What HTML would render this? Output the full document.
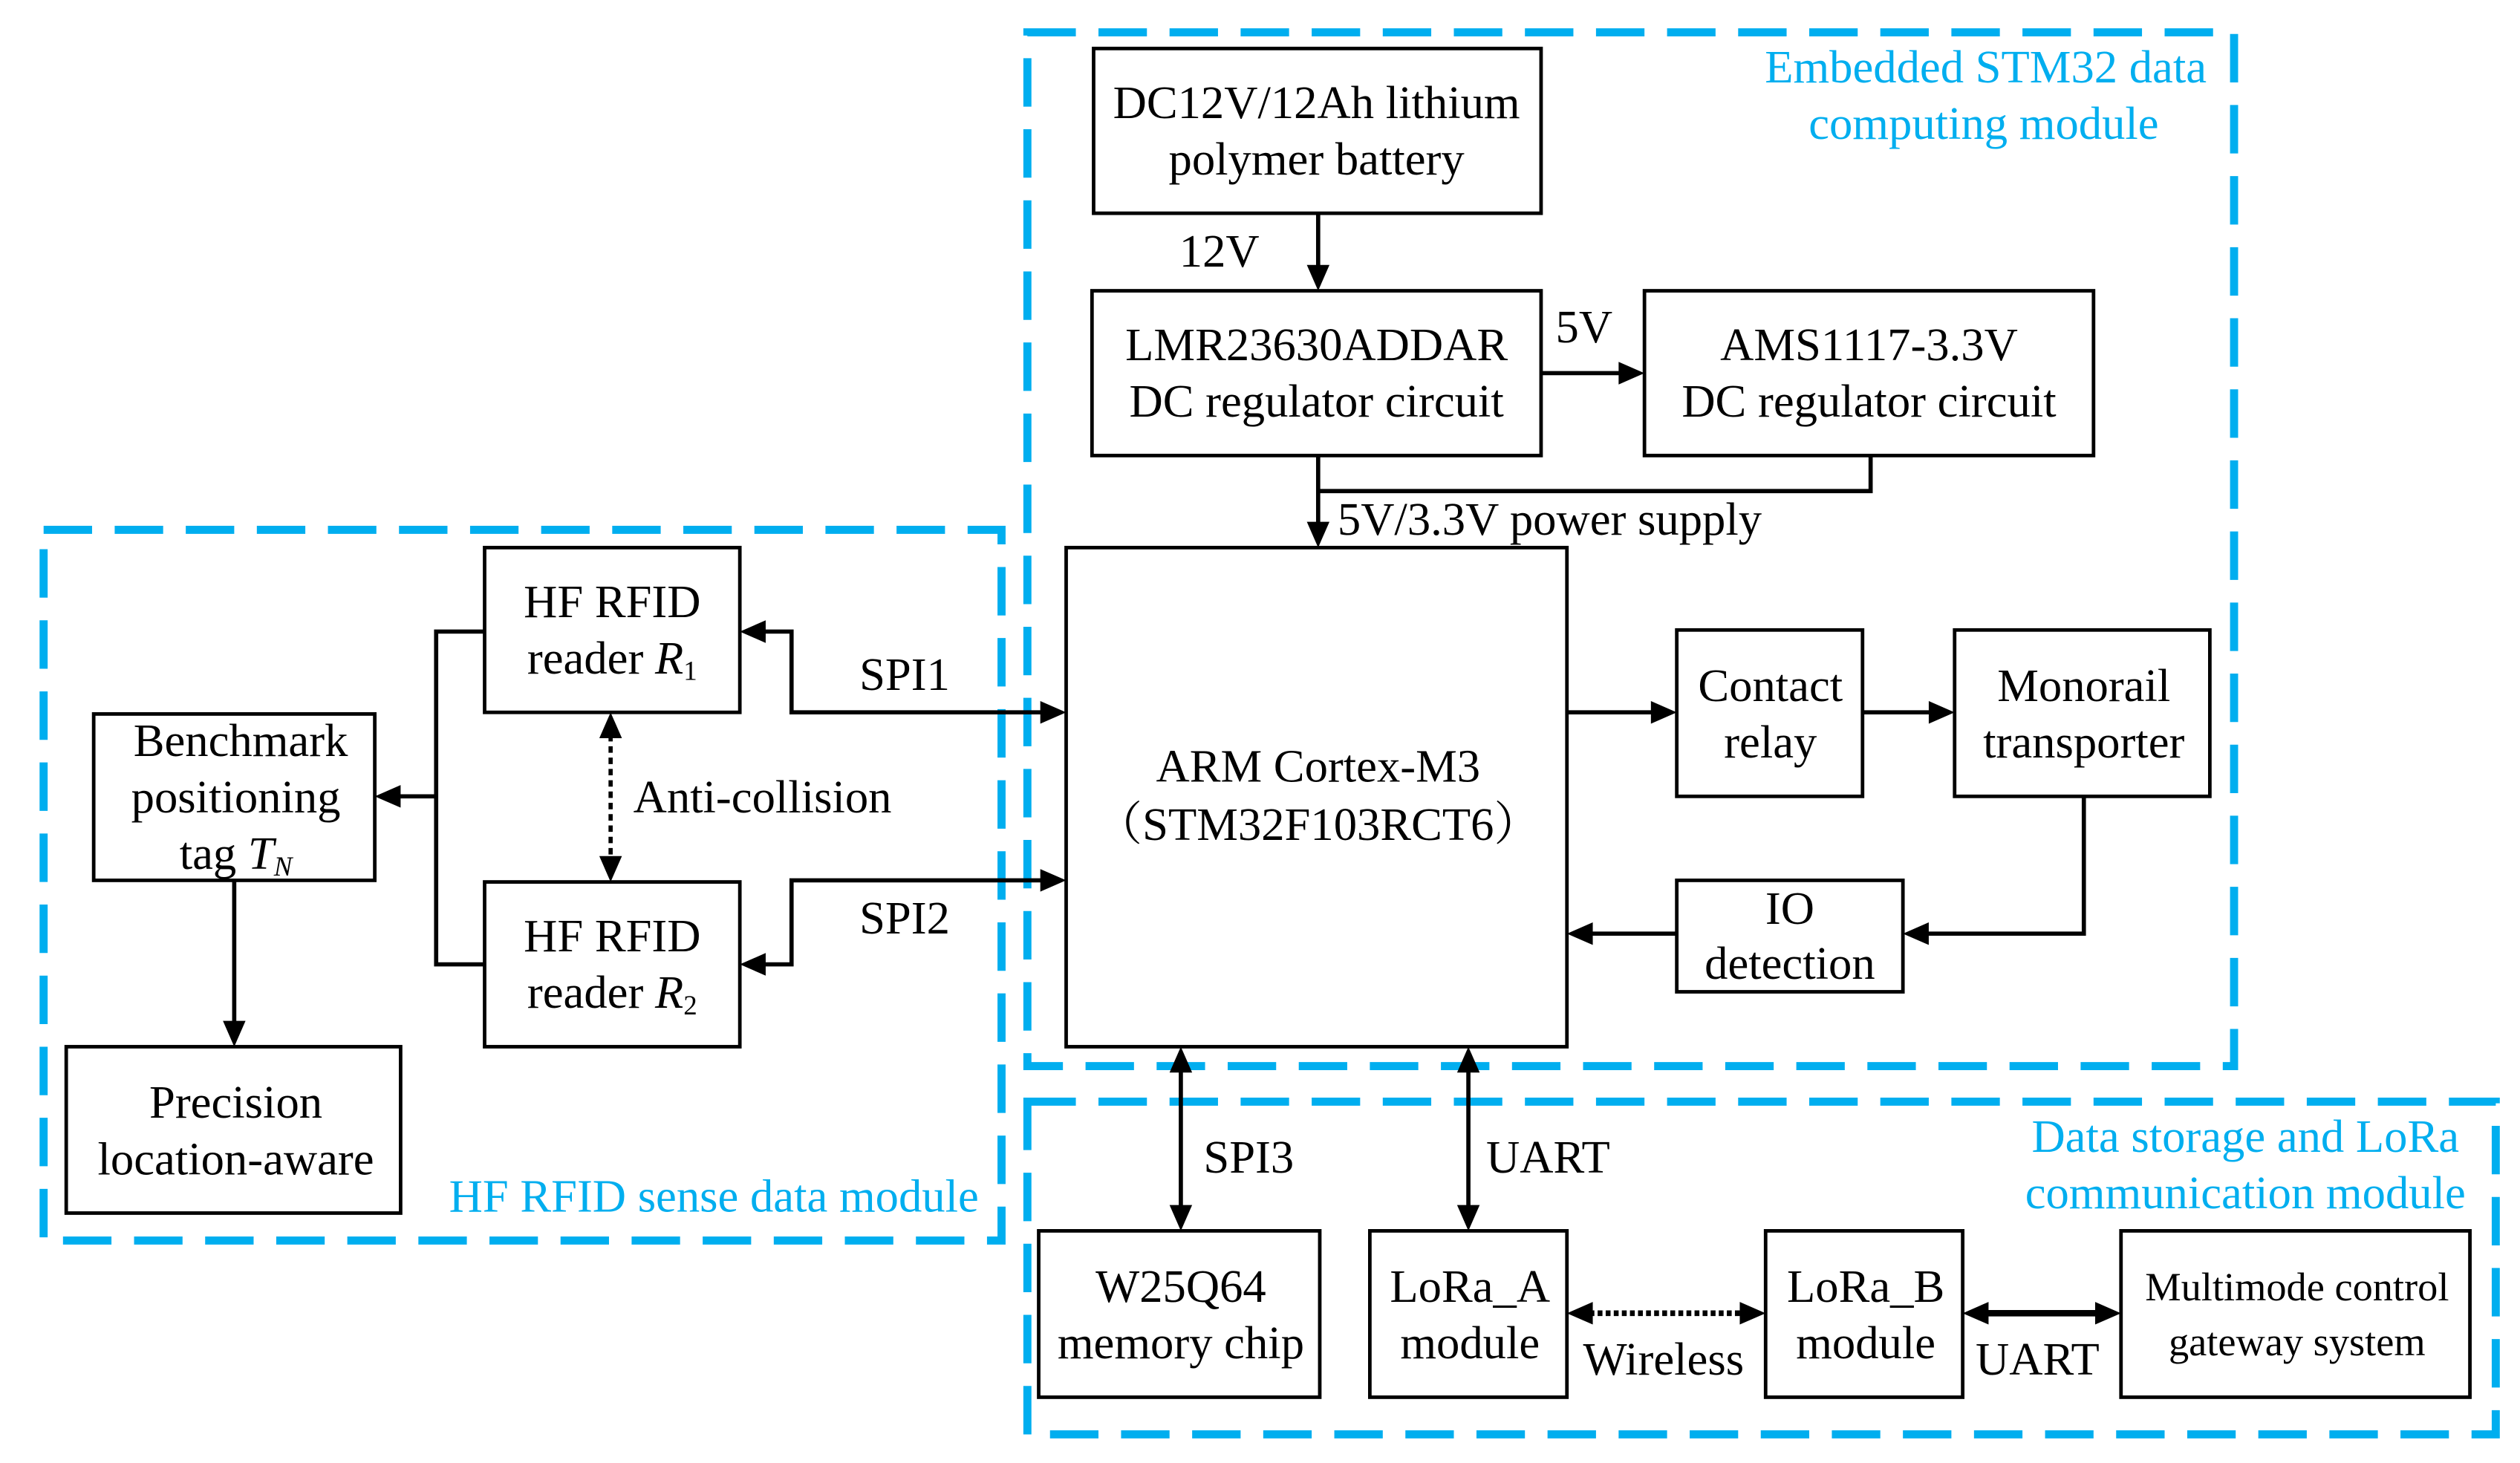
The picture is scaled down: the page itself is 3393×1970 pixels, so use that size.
<!DOCTYPE html>
<html><head><meta charset="utf-8"><style>
html,body{margin:0;padding:0;background:#fff;}
svg{display:block;}
text{font-family:"Liberation Serif","Noto Serif CJK SC",serif;font-size:28.8px;fill:#000;}
.b{fill:#00AEEF;}
.box{fill:#fff;stroke:#000;stroke-width:2.2;}
.ln{stroke:#000;stroke-width:2.6;fill:none;}
.dash{stroke:#00AEEF;stroke-width:5;fill:none;stroke-dasharray:30 14;}
</style></head><body>
<svg width="3393" height="1970" viewBox="0 0 1560 905.7" xmlns="http://www.w3.org/2000/svg">
<rect class="dash" x="636" y="20" width="747" height="640"/>
<rect class="dash" x="27" y="328" width="593" height="440"/>
<rect class="dash" x="636" y="682" width="909" height="206"/>
<text class="b" x="1366" y="51" text-anchor="end">Embedded STM32 data</text>
<text class="b" x="1228" y="86" text-anchor="middle">computing module</text>
<text class="b" x="278" y="750">HF RFID sense data module</text>
<text class="b" x="1390" y="713" text-anchor="middle">Data storage and LoRa</text>
<text class="b" x="1390" y="748" text-anchor="middle">communication module</text>

<g class="ln">
<line x1="816" y1="132" x2="816" y2="168"/>
<line x1="954" y1="231" x2="1006" y2="231"/>
<polyline points="816,282 816,327"/>
<polyline points="816,304 1158,304 1158,282"/>
<line x1="970" y1="441" x2="1026" y2="441"/>
<line x1="1153" y1="441" x2="1198" y2="441"/>
<polyline points="1290,493 1290,578 1190,578"/>
<line x1="1038" y1="578" x2="982" y2="578"/>
<polyline points="470,391 490,391 490,441 648,441"/>
<polyline points="470,597 490,597 490,545 648,545"/>
<polyline points="300,391 270,391 270,597 300,597"/>
<line x1="270" y1="493" x2="244" y2="493"/>
<line x1="145" y1="545" x2="145" y2="636"/>
<line x1="731" y1="662" x2="731" y2="748"/>
<line x1="909" y1="662" x2="909" y2="748"/>
<line x1="1228" y1="813" x2="1300" y2="813" stroke-width="4"/>
<line x1="378" y1="455" x2="378" y2="532" stroke-dasharray="4 3"/>
<line x1="984" y1="813" x2="1079" y2="813" stroke-dasharray="3 2" stroke-width="3.5"/>
</g>
<g fill="#000">
<polygon points="809,164 823,164 816,180"/>
<polygon points="1002,224 1002,238 1018,231"/>
<polygon points="809,323 823,323 816,339"/>
<polygon points="1022,434 1022,448 1038,441"/>
<polygon points="1194,434 1194,448 1210,441"/>
<polygon points="1194,571 1194,585 1178,578"/>
<polygon points="986,571 986,585 970,578"/>
<polygon points="474,384 474,398 458,391"/>
<polygon points="474,590 474,604 458,597"/>
<polygon points="644,434 644,448 660,441"/>
<polygon points="644,538 644,552 660,545"/>
<polygon points="248,486 248,500 232,493"/>
<polygon points="138,632 152,632 145,648"/>
<polygon points="371,457 385,457 378,441"/>
<polygon points="371,530 385,530 378,546"/>
<polygon points="724,664 738,664 731,648"/>
<polygon points="724,746 738,746 731,762"/>
<polygon points="902,664 916,664 909,648"/>
<polygon points="902,746 916,746 909,762"/>
<polygon points="986,806 986,820 970,813"/>
<polygon points="1077,806 1077,820 1093,813"/>
<polygon points="1231,806 1231,820 1215,813"/>
<polygon points="1297,806 1297,820 1313,813"/>
</g>

<rect class="box" x="677" y="30" width="277" height="102"/>
<text x="815" y="73" text-anchor="middle">DC12V/12Ah lithium</text>
<text x="815" y="108" text-anchor="middle">polymer battery</text>
<rect class="box" x="676" y="180" width="278" height="102"/>
<text x="815" y="223" text-anchor="middle">LMR23630ADDAR</text>
<text x="815" y="258" text-anchor="middle">DC regulator circuit</text>
<rect class="box" x="1018" y="180" width="278" height="102"/>
<text x="1157" y="223" text-anchor="middle">AMS1117-3.3V</text>
<text x="1157" y="258" text-anchor="middle">DC regulator circuit</text>
<rect class="box" x="660" y="339" width="310" height="309"/>
<text x="816" y="484" text-anchor="middle">ARM Cortex-M3</text>
<text x="816" y="520" text-anchor="middle">（STM32F103RCT6）</text>
<rect class="box" x="1038" y="390" width="115" height="103"/>
<text x="1096" y="434" text-anchor="middle">Contact</text>
<text x="1096" y="469" text-anchor="middle">relay</text>
<rect class="box" x="1210" y="390" width="158" height="103"/>
<text x="1290" y="434" text-anchor="middle">Monorail</text>
<text x="1290" y="469" text-anchor="middle">transporter</text>
<rect class="box" x="1038" y="545" width="140" height="69"/>
<text x="1108" y="572" text-anchor="middle">IO</text>
<text x="1108" y="606" text-anchor="middle">detection</text>
<rect class="box" x="300" y="339" width="158" height="102"/>
<text x="379" y="382" text-anchor="middle">HF RFID</text>
<text x="379" y="417" text-anchor="middle">reader <tspan font-style="italic">R</tspan><tspan font-size="17" dy="4">1</tspan></text>
<rect class="box" x="300" y="546" width="158" height="102"/>
<text x="379" y="589" text-anchor="middle">HF RFID</text>
<text x="379" y="624" text-anchor="middle">reader <tspan font-style="italic">R</tspan><tspan font-size="17" dy="4">2</tspan></text>
<rect class="box" x="58" y="442" width="174" height="103"/>
<text x="149" y="468" text-anchor="middle">Benchmark</text>
<text x="146" y="503" text-anchor="middle">positioning</text>
<text x="146" y="538" text-anchor="middle">tag <tspan font-style="italic">T</tspan><tspan font-style="italic" font-size="17" dy="4">N</tspan></text>
<rect class="box" x="41" y="648" width="207" height="103"/>
<text x="146" y="692" text-anchor="middle">Precision</text>
<text x="146" y="727" text-anchor="middle">location-aware</text>
<rect class="box" x="643" y="762" width="174" height="103"/>
<text x="731" y="806" text-anchor="middle">W25Q64</text>
<text x="731" y="841" text-anchor="middle">memory chip</text>
<rect class="box" x="848" y="762" width="122" height="103"/>
<text x="910" y="806" text-anchor="middle">LoRa_A</text>
<text x="910" y="841" text-anchor="middle">module</text>
<rect class="box" x="1093" y="762" width="122" height="103"/>
<text x="1155" y="806" text-anchor="middle">LoRa_B</text>
<text x="1155" y="841" text-anchor="middle">module</text>
<rect class="box" x="1313" y="762" width="216" height="103"/>
<text x="1422" y="805" text-anchor="middle" style="font-size:25px">Multimode control</text>
<text x="1422" y="839" text-anchor="middle" style="font-size:25px">gateway system</text>

<text x="730" y="165">12V</text>
<text x="963" y="212">5V</text>
<text x="828" y="331">5V/3.3V power supply</text>
<text x="532" y="427">SPI1</text>
<text x="532" y="578">SPI2</text>
<text x="392" y="503">Anti-collision</text>
<text x="745" y="726">SPI3</text>
<text x="920" y="726">UART</text>
<text x="980" y="851">Wireless</text>
<text x="1223" y="851">UART</text>
</svg>
</body></html>
